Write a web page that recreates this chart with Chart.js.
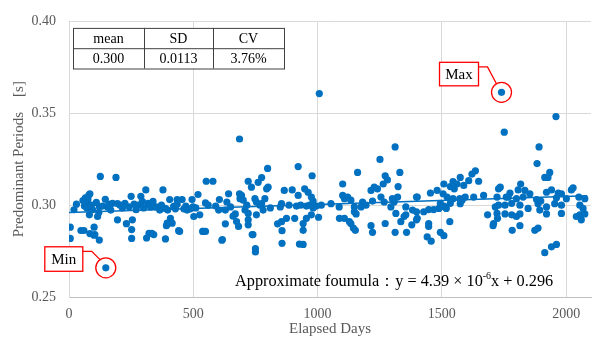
<!DOCTYPE html>
<html><head><meta charset="utf-8">
<script src="https://cdn.jsdelivr.net/npm/chart.js@4"></script>
<style>html,body{margin:0;padding:0;background:#fff}#wrap{width:595px;height:339px;position:relative}</style>
</head><body><div id="wrap"><canvas id="c" width="595" height="339"></canvas></div>
<script>
// Elapsed days and predominant periods [s]
const days = [5,5,20,30,48,56,60,62,66,70,72,76,80,84,82,84,90,95,101,101,104,110,115,120,122,122,126,135,146,148,155,160,168,175,189,195,195,205,215,225,231,242,250,252,252,255,262,270,280,289,295,300,309,312,318,322,328,333,338,
341,350,365,372,378,388,388,392,395,397,405,408,415,421,428,435,435,441,445,455,462,470,475,488,495,499,502,510,519,526,538,539,549,549,552,560,579,590,602,605,615,617,629,629,635,642,650,660,669,674,682,686,686,688,
694,701,708,715,721,721,721,721,734,737,740,748,750,750,754,754,761,768,775,775,781,788,795,799,801,810,839,850,855,855,857,857,866,875,885,898,908,915,922,922,927,932,942,942,942,948,955,955,962,968,975,975,978,982,982,995,1004,1007,1015,
1054,1087,1088,1101,1101,1108,1108,1121,1128,1134,1134,1144,1148,1148,1152,1155,1161,1175,1181,1195,1215,1215,1221,1221,1228,1241,1251,1255,1264,1268,1272,1272,1281,1295,1301,1308,1312,1312,1315,1322,1324,1331,1335,1348,1355,1355,1358,1379,1382,1398,1398,1398,
1401,1401,1427,1441,1447,1447,1447,1454,1457,1467,1481,1488,1494,1494,1505,1508,1508,1508,1510,1518,1521,1532,1534,1534,1545,1545,1550,1561,1572,1574,1574,1581,1588,1594,1608,1621,1628,1635,1648,1668,1684,1706,1708,1715,1722,1722,1724,1728,1728,1735,1740,1751,1759,
1754,1754,1767,1774,1781,1781,1783,1800,1800,1807,1814,1814,1814,1817,1827,1834,1847,1854,1874,1881,1883,1887,1887,1891,1894,1898,1914,1914,1921,1921,1921,1927,1934,1941,1941,1954,1959,1961,1961,1968,1981,1981,1981,2001,2021,2028,2041,2051,2055,2055,2061,2068,2075,2075];
const periods = [0.2880,0.2819,0.2975,0.3005,0.2862,0.3025,0.2862,0.2995,0.3040,0.3010,0.2985,0.3030,0.3055,0.3062,0.2947,0.2845,0.3000,0.2975,0.2880,0.2836,0.2840,0.3015,0.2938,0.2960,0.2991,0.2810,0.3156,0.2995,0.3032,0.2659,0.2990,0.3005,0.2973,0.3010,0.3151,0.3009,0.2920,0.3000,0.2985,0.3010,0.2899,0.2991,0.3048,0.2867,0.2819,0.2920,0.3005,0.2975,0.3000,0.3048,0.3020,0.2985,0.3083,0.2821,0.3010,0.2847,0.2990,0.2847,0.3020,
0.2840,0.2990,0.2973,0.3000,0.3083,0.2982,0.2816,0.2888,0.2902,0.2973,0.3030,0.2928,0.2902,0.2994,0.2980,0.3005,0.3030,0.2861,0.2857,0.3030,0.2980,0.2995,0.2973,0.2980,0.3030,0.2990,0.2938,0.2985,0.3058,0.2947,0.2857,0.2857,0.2857,0.3012,0.3130,0.3000,0.3130,0.2995,0.2973,0.3030,0.2809,0.2813,0.2973,0.2898,0.3017,0.3062,0.2990,0.2940,0.2952,0.2911,0.2884,0.3360,0.3062,0.3035,
0.3053,0.3027,0.2973,0.3000,0.3130,0.2955,0.2920,0.2893,0.3098,0.2840,0.2840,0.3035,0.2763,0.2745,0.3017,0.2947,0.3124,0.3000,0.3150,0.3008,0.2973,0.3035,0.3089,0.3200,0.3098,0.2985,0.2898,0.2990,0.3008,0.2910,0.2861,0.2792,0.3080,0.2928,0.3000,0.3083,0.2928,0.2995,0.3210,0.3053,0.2788,0.3000,0.2900,0.2863,0.2786,0.3089,0.2995,0.2928,0.3070,0.3000,0.3044,0.2947,0.3160,0.3022,0.2985,0.2995,0.2934,0.3607,0.3000,
0.3008,0.2990,0.2928,0.3115,0.3053,0.3035,0.2928,0.3044,0.2910,0.3027,0.2900,0.2875,0.2990,0.2964,0.2863,0.2952,0.3178,0.2990,0.3017,0.3000,0.3080,0.2888,0.3022,0.2852,0.3098,0.3089,0.3249,0.3044,0.3115,0.3017,0.3160,0.2900,0.3137,0.2990,0.3035,0.3017,0.3317,0.2852,0.2955,0.3044,0.3101,0.3178,0.2910,0.2938,0.2990,0.2947,0.2852,0.2893,0.2973,0.3044,0.2964,0.2920,
0.3044,0.2928,0.2964,0.2827,0.2976,0.2900,0.2884,0.3066,0.2804,0.2976,0.3080,0.2982,0.3010,0.2852,0.3062,0.3115,0.2995,0.2834,0.2991,0.2982,0.3044,0.2910,0.3101,0.3010,0.3128,0.3035,0.3089,0.3115,0.3035,0.3151,0.3008,0.3027,0.3107,0.3044,0.3133,0.3169,0.3044,0.3187,0.3130,0.3053,0.2947,0.2888,0.2900,0.2990,0.3044,0.2955,0.2928,0.3089,0.3000,0.3098,0.3614,0.3397,0.3044,
0.3000,0.2952,0.3044,0.3066,0.3010,0.2947,0.2863,0.3035,0.2938,0.3083,0.3000,0.2952,0.2888,0.3115,0.3044,0.3080,0.2982,0.3062,0.2863,0.3030,0.3226,0.3008,0.2875,0.3317,0.2973,0.3022,0.3151,0.2741,0.3070,0.2990,0.2952,0.3151,0.3178,0.3083,0.2773,0.3008,0.3482,0.3040,0.2786,0.3066,0.3062,0.3000,0.2955,0.3035,0.3083,0.3094,0.2938,0.3044,0.3000,0.2947,0.2920,0.2982,0.3035,0.2952];
// Linear approximation line end points (y = 4.39e-6 x + 0.296)
const trendDays = [0, 2085];
const trendPeriods = [0.2960, 0.30515];
const xTicks = [0, 500, 1000, 1500, 2000];
const yTicks = [0.25, 0.30, 0.35, 0.40];
const statHeaders = ['mean', 'SD', 'CV'];
const statValues = ['0.300', '0.0113', '3.76%'];
const maxPoint = {x: 1740, y: 0.3614};
const minPoint = {x: 148, y: 0.2659};

const SERIF = '"Liberation Serif", "DejaVu Serif", serif';
const BLUE = '#0070C0';

const annot = {
  id: 'annot',
  afterDraw(chart) {
    const ctx = chart.ctx, xs = chart.scales.x, ys = chart.scales.y;
    const a = chart.chartArea;
    ctx.save();
    // stats table
    const tx = a.left + 4, ty = a.top + 6.5, cw = [71, 69, 71], rh = 20.3;
    ctx.strokeStyle = '#404040'; ctx.lineWidth = 1;
    const tw = cw[0] + cw[1] + cw[2];
    ctx.fillStyle = '#fff'; ctx.fillRect(tx, ty, tw, rh * 2);
    ctx.strokeRect(tx + 0.5, ty + 0.5, tw, rh * 2);
    ctx.beginPath();
    ctx.moveTo(tx, ty + rh + 0.5); ctx.lineTo(tx + tw, ty + rh + 0.5);
    let cx = tx;
    for (let i = 0; i < 2; i++) { cx += cw[i]; ctx.moveTo(cx + 0.5, ty); ctx.lineTo(cx + 0.5, ty + rh * 2); }
    ctx.stroke();
    ctx.fillStyle = '#000'; ctx.font = '14px ' + SERIF; ctx.textAlign = 'center'; ctx.textBaseline = 'middle';
    cx = tx;
    for (let i = 0; i < 3; i++) {
      ctx.fillText(statHeaders[i], cx + cw[i] / 2, ty + rh / 2 + 1);
      ctx.fillText(statValues[i], cx + cw[i] / 2, ty + rh * 1.5 + 1);
      cx += cw[i];
    }
    // callouts
    function callout(p, label, bx, by, bw, bh, k1, k2) {
      const px = xs.getPixelForValue(p.x), py = ys.getPixelForValue(p.y);
      ctx.strokeStyle = '#FF0000'; ctx.lineWidth = 1.3;
      ctx.beginPath(); ctx.arc(px, py, 10, 0, Math.PI * 2); ctx.stroke();
      const x0 = px + bx, y0 = py + by;
      ctx.fillStyle = '#fff'; ctx.fillRect(x0, y0, bw, bh);
      ctx.strokeRect(x0, y0, bw, bh);
      ctx.beginPath();
      ctx.moveTo(x0 + bw, y0 + k1); ctx.lineTo(x0 + bw + 9, y0 + k1);
      const ang = Math.atan2(k2[1], k2[0]);
      ctx.lineTo(px - 10 * Math.cos(ang), py - 10 * Math.sin(ang));
      ctx.stroke();
      ctx.fillStyle = '#000'; ctx.font = '15px ' + SERIF; ctx.textAlign = 'center'; ctx.textBaseline = 'middle';
      ctx.fillText(label, x0 + bw / 2, y0 + bh / 2 + 1);
    }
    callout(maxPoint, 'Max', -62, -30, 39, 23.5, 4.5, [1, 1.7]);
    callout(minPoint, 'Min', -61, -21, 38, 24.5, 4.5, [1, 1.4]);
    // formula
    ctx.fillStyle = '#000'; ctx.textAlign = 'left'; ctx.textBaseline = 'alphabetic';
    const base = 286;
    let x = 235;
    const big = '16.3px ' + SERIF, small = '10px ' + SERIF;
    const parts = [['Approximate foumula：y = 4.39 × 10', big, 0], ['-6', small, -7], ['x + 0.296', big, 0]];
    for (const [t, f, dy] of parts) { ctx.font = f; ctx.fillText(t, x, base + dy); x += ctx.measureText(t).width; }
    ctx.restore();
  }
};

new Chart(document.getElementById('c'), {
  type: 'scatter',
  data: {
    datasets: [
      { data: days.map((d, i) => ({x: d, y: periods[i]})), backgroundColor: BLUE, borderColor: BLUE, pointRadius: 3.6, pointBorderWidth: 0, order: 2 },
      { type: 'line', data: trendDays.map((d, i) => ({x: d, y: trendPeriods[i]})), borderColor: BLUE, borderWidth: 1.5, pointRadius: 0, fill: false, order: 1 }
    ]
  },
  options: {
    responsive: false, animation: false, devicePixelRatio: 1,
    layout: { padding: { top: 16, right: 2, left: 0, bottom: 0 } },
    plugins: { legend: { display: false }, tooltip: { enabled: false } },
    scales: {
      x: {
        type: 'linear', min: 0, max: 2100,
        afterFit(s) { s.height = 42; },
        afterBuildTicks(s) { s.ticks = xTicks.map(v => ({value: v})); },
        ticks: { includeBounds: false, padding: 9, color: '#595959', font: { family: SERIF, size: 14 }, maxRotation: 0, callback: v => String(v) },
        grid: { color: '#d9d9d9', drawTicks: false },
        border: { color: '#bfbfbf', width: 1 },
        title: { display: true, text: 'Elapsed Days', color: '#595959', font: { family: SERIF, size: 15 }, padding: { top: 0, bottom: 1 } }
      },
      y: {
        min: 0.25, max: 0.40,
        afterFit(s) { s.width = 69; },
        afterBuildTicks(s) { s.ticks = yTicks.map(v => ({value: v})); },
        ticks: { padding: 13, color: '#595959', font: { family: SERIF, size: 14 }, callback: v => Number(v).toFixed(2) },
        grid: { color: '#d9d9d9', drawTicks: false },
        border: { color: '#d9d9d9', width: 1 },
        title: { display: true, text: 'Predominant Periods\u2003[s]', color: '#595959', font: { family: SERIF, size: 15 }, padding: { top: 10, bottom: 0 } }
      }
    }
  },
  plugins: [annot]
});
</script></body></html>
